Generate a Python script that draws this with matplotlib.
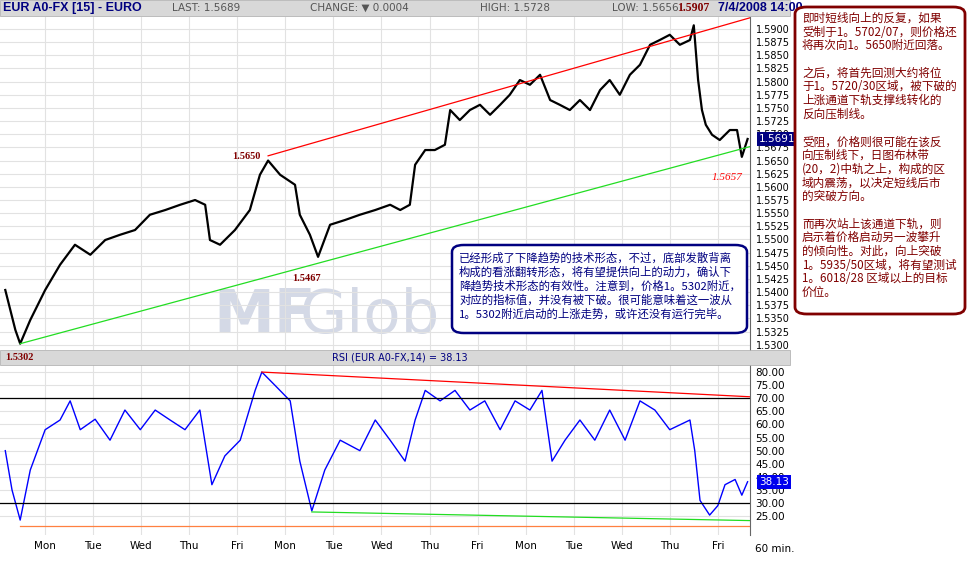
import matplotlib
matplotlib.use("Agg")
import matplotlib.pyplot as plt
from matplotlib.patches import FancyBboxPatch, Rectangle

plt.rcParams['font.family'] = ['Noto Sans CJK SC', 'DejaVu Sans']

price_t = [-0.83,-0.62,-0.52,-0.31,0,0.31,0.62,0.94,1.25,1.56,1.87,2.18,2.50,2.81,3.12,3.33,3.43,3.64,3.95,4.26,4.47,4.64,4.89,5.20,5.30,5.51,5.68,5.93,6.24,6.55,6.87,7.18,7.39,7.59,7.70,7.91,8.11,8.32,8.43,8.63,8.84,9.05,9.26,9.47,9.67,9.88,10.09,10.30,10.51,10.71,10.92,11.13,11.34,11.55,11.75,11.96,12.17,12.38,12.59,12.79,13.00,13.21,13.42,13.50,13.59,13.67,13.75,13.88,14.04,14.25,14.40,14.50,14.62]
price = [1.5404,1.5328,1.5302,1.5347,1.5404,1.5452,1.5490,1.5471,1.5499,1.5509,1.5518,1.5547,1.5556,1.5566,1.5575,1.5566,1.5499,1.5490,1.5518,1.5556,1.5623,1.5650,1.5623,1.5604,1.5547,1.5509,1.5467,1.5528,1.5537,1.5547,1.5556,1.5566,1.5556,1.5566,1.5642,1.5670,1.5670,1.5680,1.5746,1.5727,1.5746,1.5756,1.5737,1.5756,1.5775,1.5803,1.5794,1.5813,1.5765,1.5756,1.5746,1.5765,1.5746,1.5784,1.5803,1.5775,1.5813,1.5832,1.5870,1.5879,1.5889,1.5870,1.5879,1.5907,1.5803,1.5746,1.5718,1.5699,1.5689,1.5708,1.5708,1.5657,1.5691]
rsi_t = [-0.83,-0.69,-0.52,-0.31,0,0.31,0.52,0.73,1.04,1.35,1.66,1.98,2.29,2.60,2.91,3.22,3.47,3.74,4.06,4.37,4.51,4.78,5.10,5.30,5.55,5.82,6.14,6.55,6.87,7.18,7.49,7.70,7.91,8.22,8.53,8.84,9.15,9.47,9.78,10.09,10.34,10.55,10.82,11.13,11.44,11.75,12.07,12.38,12.69,13.00,13.42,13.52,13.63,13.83,14.00,14.15,14.36,14.50,14.62]
rsi = [50,35,23.5,42.6,58,61.7,69,58,62,54,65.5,58,65.5,61.7,58,65.5,37,48,54,73,80,75,69,46,27,42.6,54,50,61.7,54,46,61.7,73,69,73,65.5,69,58,69,65.5,73,46,54,61.7,54,65.5,54,69,65.5,58,61.7,50,31,25.4,29,37,39,33,38.13]
days = ["Mon","Tue","Wed","Thu","Fri","Mon","Tue","Wed","Thu","Fri","Mon","Tue","Wed","Thu","Fri"]
red_ch = ([4.64, 15.5], [1.5659, 1.5943])
green_ch = ([-0.52, 15.5], [1.5302, 1.5697])
rsi_red = ([4.51, 15.5], [80.0, 69.8])
rsi_green = ([5.55, 15.5], [26.6, 23.0])
rsi_orange = 21.3

W, H = 976, 578
fig = plt.figure(figsize=(9.76, 5.78), dpi=100)
def fx(x): return x / W
def fy(y): return 1 - y / H

XL = (-0.94, 14.67)
ax = fig.add_axes([0, fy(350), fx(750), fy(17) - fy(350)])
ax.set_xlim(*XL); ax.set_ylim(1.5290, 1.59228)
ax.text(3.5, 1.5322, "MF", fontsize=44, color='#d4d9e6', weight='bold', family='DejaVu Sans', zorder=0)
ax.text(5.3, 1.5322, "Glob", fontsize=44, color='#d4d9e6', family='DejaVu Sans', zorder=0)
ax.plot(price_t, price, color='black', lw=1.6)
ax.plot(*red_ch, color='red', lw=0.9)
ax.plot(*green_ch, color='#22dd22', lw=0.9)
ax.set_xticks(range(15)); ax.set_xticklabels([])
ax.set_yticks([1.5300 + 0.0025 * i for i in range(25)])
ax.yaxis.tick_right()
ax.set_yticklabels([f"{1.5300+0.0025*i:.4f}" for i in range(25)], fontsize=7, family='DejaVu Sans')
ax.tick_params(length=0, pad=4)
ax.grid(True, color='#e2e2e2', lw=0.8)
for s in ['top', 'left', 'bottom']: ax.spines[s].set_visible(False)
ax.spines['right'].set_color('#666666')
ax.text(3.9, 1.5650, "1.5650", color='#800000', fontsize=7.5, weight='bold', family='Liberation Serif', va='bottom')
ax.text(5.15, 1.5422, "1.5467", color='#800000', fontsize=7.5, weight='bold', family='Liberation Serif', zorder=3)
ax.text(13.88, 1.5614, "1.5657", color='red', fontsize=8, style='italic', family='Liberation Serif')
ax.text(1.012, 1.5691, "1.5691", transform=ax.get_yaxis_transform(), fontsize=7.5, color='white',
        va='center', family='DejaVu Sans', bbox=dict(boxstyle='square,pad=0.2', fc='#000080', ec='none'))

ax2 = fig.add_axes([0, fy(535), fx(750), fy(365) - fy(535)])
ax2.set_xlim(*XL); ax2.set_ylim(17.8, 82.7)
ax2.plot(rsi_t, rsi, color='blue', lw=1)
ax2.axhline(70, color='black', lw=0.9); ax2.axhline(30, color='black', lw=0.9)
ax2.plot(*rsi_red, color='red', lw=0.9)
ax2.plot(*rsi_green, color='#22dd22', lw=0.9)
ax2.plot([-0.52, 15.5], [rsi_orange, rsi_orange], color='#ff8040', lw=0.9)
ax2.set_xticks(range(15)); ax2.set_xticklabels(days, fontsize=7.5, family='DejaVu Sans')
ax2.set_yticks([25 + 5 * i for i in range(12)])
ax2.yaxis.tick_right()
ax2.set_yticklabels([f"{25+5*i:.2f}" for i in range(12)], fontsize=7.5, family='DejaVu Sans')
ax2.tick_params(length=0, pad=4)
ax2.grid(True, color='#e2e2e2', lw=0.8)
for s in ['top', 'left', 'bottom']: ax2.spines[s].set_visible(False)
ax2.spines['right'].set_color('#666666')
ax2.text(1.012, 38.13, "38.13", transform=ax2.get_yaxis_transform(), fontsize=7.5, color='white',
         va='center', family='DejaVu Sans', bbox=dict(boxstyle='square,pad=0.2', fc='#0000ee', ec='none'))
fig.text(fx(755), fy(544), "60 min.", fontsize=7.5, va='top', family='DejaVu Sans')

fig.patches.append(Rectangle((0, fy(16)), fx(790), fy(0) - fy(16), transform=fig.transFigure, fc='#d8d8d8', ec='#aaaaaa', lw=0.5, zorder=0))
fig.patches.append(Rectangle((0, fy(365)), fx(790), fy(350) - fy(365), transform=fig.transFigure, fc='#d8d8d8', ec='#aaaaaa', lw=0.5, zorder=0))
hy = fy(8)
fig.text(fx(3), hy, "EUR A0-FX [15] - EURO", fontsize=9, weight='bold', color='#000080', va='center', family='Liberation Sans')
fig.text(fx(172), hy, "LAST: 1.5689", fontsize=7.5, color='#555555', va='center', family='DejaVu Sans')
fig.text(fx(310), hy, "CHANGE: ▼ 0.0004", fontsize=7.5, color='#555555', va='center', family='DejaVu Sans')
fig.text(fx(480), hy, "HIGH: 1.5728", fontsize=7.5, color='#555555', va='center', family='DejaVu Sans')
fig.text(fx(612), hy, "LOW: 1.5656", fontsize=7.5, color='#555555', va='center', family='DejaVu Sans')
fig.text(fx(677), hy, "1.5907", fontsize=8.5, color='#800000', weight='bold', va='center', family='Liberation Serif')
fig.text(fx(718), hy, "7/4/2008 14:00", fontsize=9, color='#000080', weight='bold', va='center', family='Liberation Sans')
fig.text(fx(400), fy(357.5), "RSI (EUR A0-FX,14) = 38.13", fontsize=7, color='#000080', va='center', ha='center', family='DejaVu Sans')
fig.text(fx(5), fy(358), "1.5302", fontsize=7.5, color='#800000', weight='bold', va='center', family='Liberation Serif')

fig.patches.append(FancyBboxPatch((fx(452), fy(333)), fx(295), fy(245) - fy(333), boxstyle='round,pad=0,rounding_size=0.012',
                                  transform=fig.transFigure, fc='white', ec='#000080', lw=1.8, zorder=5))
mid = ("已经形成了下降趋势的技术形态，不过，底部发散背离\n构成的看涨翻转形态，将有望提供向上的动力，确认下\n"
       "降趋势技术形态的有效性。注意到，价格1。5302附近，\n对应的指标值，并没有被下破。很可能意味着这一波从\n1。5302附近启动的上涨走势，或许还没有运行完毕。")
fig.text(fx(459), fy(252), mid, fontsize=8.2, color='#000080', va='top', linespacing=1.3, zorder=6)

fig.patches.append(FancyBboxPatch((fx(795), fy(314)), fx(170), fy(7) - fy(314), boxstyle='round,pad=0,rounding_size=0.012',
                                  transform=fig.transFigure, fc='white', ec='#800000', lw=2, zorder=5))
right = ("即时短线向上的反复，如果\n受制于1。5702/07，则价格还\n将再次向1。5650附近回落。\n\n"
         "之后，将首先回测大约将位\n于1。5720/30区域，被下破的\n上涨通道下轨支撑线转化的\n反向压制线。\n\n"
         "受阻，价格则很可能在该反\n向压制线下，日图布林带\n(20，2)中轨之上，构成的区\n域内震荡，以决定短线后市\n的突破方向。\n\n"
         "而再次站上该通道下轨，则\n启示着价格启动另一波攀升\n的倾向性。对此，向上突破\n1。5935/50区域，将有望测试\n1。6018/28 区域以上的目标\n价位。")
fig.text(fx(802), fy(12), right, fontsize=8.4, color='#800000', va='top', linespacing=1.07, zorder=6)

fig.savefig("out.png", dpi=100, facecolor='white')
